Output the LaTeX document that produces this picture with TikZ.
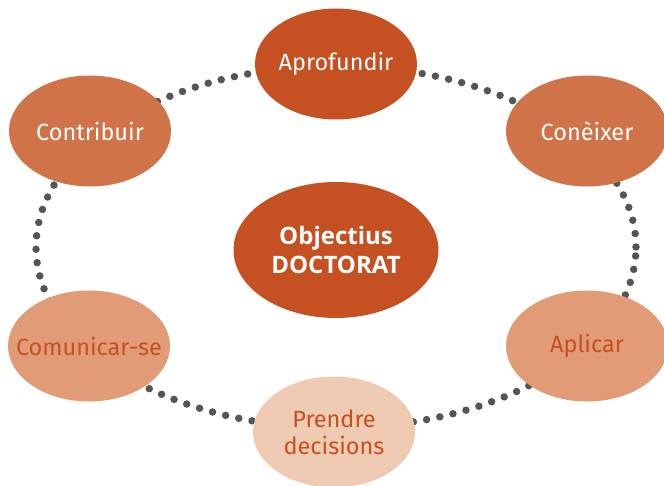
\documentclass[tikz,border=0pt]{standalone}
\usepackage{fontspec}
\setmainfont{Fira Sans}
\newfontfamily\boldfam{Open Sans}
\usetikzlibrary{shapes.geometric}
\definecolor{cdark}{RGB}{197,80,34}
\definecolor{cmid}{RGB}{208,115,72}
\definecolor{clight}{RGB}{225,156,119}
\definecolor{cpale}{RGB}{237,202,177}
\definecolor{cdot}{RGB}{85,85,85}
\newcommand{\zw}[1]{\makebox[0pt]{#1}}
\tikzset{
  goal/.style={ellipse, minimum width=162pt, minimum height=111pt, inner sep=0pt, align=center, font=\fontsize{23.5}{27}\selectfont},
  gdark/.style={goal, fill=cdark, text=white},
  gmid/.style={goal, fill=cmid, text=white},
  glight/.style={goal, fill=clight, text=cdark},
  gpale/.style={goal, fill=cpale, text=cdark},
  ring/.style={draw=cdot, line width=7.5pt, line cap=round, dash pattern=on 0pt off 13.5pt}
}
\begin{document}
\begin{tikzpicture}[x=1pt,y=-1pt]
\useasboundingbox (0,0) rectangle (664,486);
\clip (0,0) rectangle (664,486);
\coordinate (c) at (336,247);
\draw[ring] (c) ellipse [x radius=300pt, y radius=181pt];
\node[gdark] (apro) at (336,64) {\zw{Aprofundir}};
\node[gmid] (cont) at (90,131) {\zw{Contribuir}};
\node[gmid] (cone) at (587,131) {\zw{Conèixer}};
\node[glight] (comu) at (89,346) {\zw{Comunicar-se}};
\node[glight] (apli) at (587,346) {\zw{Aplicar}};
\node[gpale] (pren) at (334,432) {\zw{Prendre}\\\zw{decisions}};
\node[gdark, minimum width=205pt, minimum height=136pt, font=\boldfam\fontsize{24}{29}\selectfont\bfseries] (obj) at (336,250) {\zw{Objectius}\\\zw{DOCTORAT}};
\end{tikzpicture}
\end{document}
